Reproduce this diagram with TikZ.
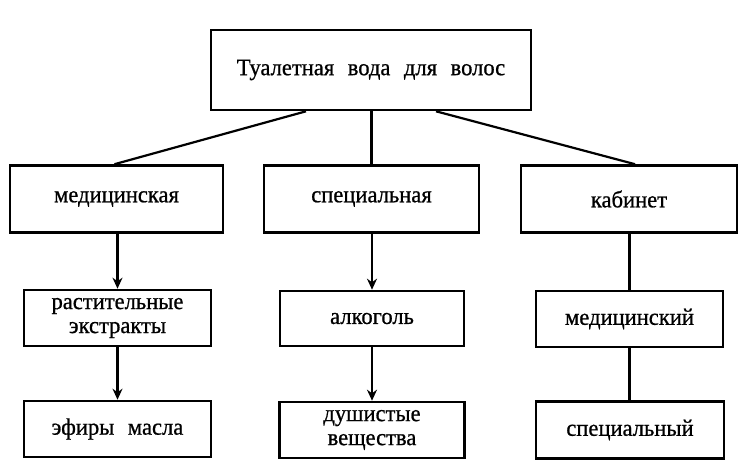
\documentclass[tikz,border=0pt]{standalone}
\usepackage{fontspec}
\setmainfont{Liberation Serif}[FakeStretch=0.96,FakeBold=0.8,WordSpace=2.4]
\usetikzlibrary{arrows.meta}
\begin{document}
\begin{tikzpicture}[x=1pt,y=-1pt,
  box/.style={draw,line width=2.6pt,inner sep=0pt,align=center,font=\fontsize{23.5}{24}\selectfont},
  conn/.style={line width=2.2pt},
  arr/.style={line width=2.2pt,-{Stealth[length=11pt,width=10pt]}}]
\useasboundingbox (0,0) rectangle (743,473);
\node[box,minimum width=320pt,minimum height=80pt] (top) at (371,70) {Туалетная вода для волос};
\node[box,minimum width=213pt,minimum height=67pt] (med) at (116.5,199) {медицинская};
\node[box,minimum width=215pt,minimum height=67pt] (spec) at (371.5,199) {специальная};
\node[box,minimum width=216pt,minimum height=67pt] (kab) at (629,199) {кабинет};
\node[box,minimum width=187pt,minimum height=56pt] (rast) at (117.5,318) {растительные\\экстракты};
\node[box,minimum width=184pt,minimum height=55pt] (alk) at (372,318.5) {алкоголь};
\node[box,minimum width=187pt,minimum height=56pt] (medk) at (629.5,319) {медицинский};
\node[box,minimum width=187pt,minimum height=56pt] (efir) at (117.5,429) {эфиры масла};
\node[box,minimum width=185pt,minimum height=56pt] (dush) at (372,430) {душистые\\вещества};
\node[box,minimum width=188pt,minimum height=57pt] (specn) at (630,430) {специальный};
\draw[conn] ([xshift=-65pt]top.south) -- ([xshift=-2pt]med.north);
\draw[conn] (spec.north |- top.south) -- (spec.north);
\draw[conn] ([xshift=65pt]top.south) -- ([xshift=6pt]kab.north);
\draw[arr] (rast.north |- med.south) -- (rast.north);
\draw[arr] (rast.south) -- (efir.north);
\draw[arr] (alk.north |- spec.south) -- (alk.north);
\draw[arr] (alk.south) -- (dush.north);
\draw[conn] (medk.north |- kab.south) -- (medk.north);
\draw[conn] (medk.south) -- (medk.south |- specn.north);
\end{tikzpicture}
\end{document}
